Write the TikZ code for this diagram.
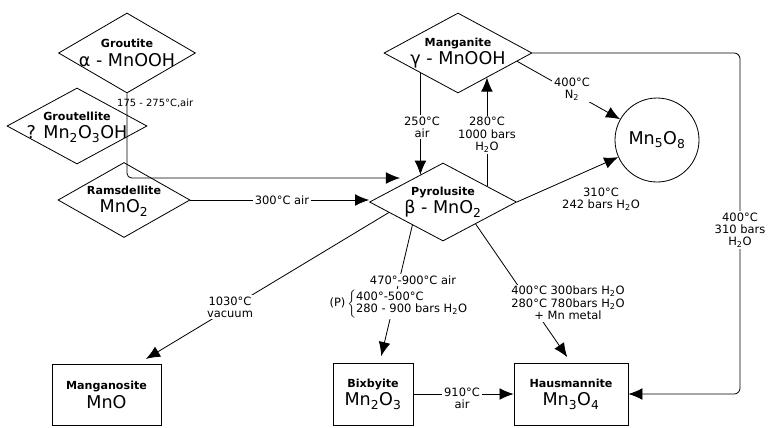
\documentclass[tikz,border=0pt]{standalone}
\usepackage{fontspec}
\setmainfont{DejaVu Sans}
\usetikzlibrary{arrows.meta,shapes.geometric}

\newcommand{\mname}[1]{{\fontsize{9.5}{11}\selectfont\bfseries #1}}
\newcommand{\low}[1]{\textsubscript{#1}}

\tikzset{
  mindiamond/.style={diamond, draw, inner sep=0pt},
  minbox/.style={rectangle, draw, inner sep=0pt},
  mintext/.style={align=center, inner sep=0pt, font=\fontsize{15}{16}\selectfont},
  cond/.style={align=center, inner sep=1.5pt, fill=white, font=\fontsize{9.8}{10.5}\selectfont},
}

\begin{document}
\begin{tikzpicture}[>={Latex[length=12pt,width=10pt]}, x=0.3mm, y=-0.3mm, line width=0.7pt]
  \useasboundingbox (0,0) rectangle (771,427);
  % Diamonds: oxyhydroxides and dioxides
  \node[mindiamond, minimum width=41.1mm, minimum height=24mm] (groutite) at (127,53) {};
  \node[mindiamond, minimum width=42mm, minimum height=22.8mm] (groutellite) at (77,126) {};
  \node[mindiamond, minimum width=39.6mm, minimum height=22.5mm] (ramsdellite) at (124,200) {};
  \node[mindiamond, minimum width=44.1mm, minimum height=23.4mm] (pyro) at (443,202) {};
  \node[mindiamond, minimum width=44.4mm, minimum height=24mm] (manganite) at (458,53) {};
  % Circle and boxes: the lower oxides
  \node[circle, draw, minimum size=25.2mm, inner sep=0pt, font=\fontsize{15}{16}\selectfont] (mnfiveo) at (657,140) {Mn\low{5}O\low{8}};
  \node[minbox, minimum width=32.7mm, minimum height=18.3mm] (manganosite) at (106.5,395) {};
  \node[minbox, minimum width=24mm, minimum height=18.6mm] (bixbyite) at (373,394) {};
  \node[minbox, minimum width=34.2mm, minimum height=18.6mm] (hausmannite) at (571,394) {};

  % Mineral names and formulas
  \node[mintext] (groutite text) at (groutite) {\mname{Groutite}\\α - MnOOH};
  \node[mintext] (groutellite text) at (77,127) {\mname{Groutellite}\\? Mn\low{2}O\low{3}OH};
  \node[mintext] (ramsdellite text) at (124,201) {\mname{Ramsdellite}\\MnO\low{2}};
  \node[mintext] (pyro text) at (pyro) {\mname{Pyrolusite}\\β - MnO\low{2}};
  \node[mintext] (manganite text) at (manganite) {\mname{Manganite}\\γ - MnOOH};
  \node[mintext] (manganosite text) at (manganosite) {\mname{Manganosite}\\MnO};
  \node[mintext] (bixbyite text) at (bixbyite) {\mname{Bixbyite}\\Mn\low{2}O\low{3}};
  \node[mintext] (hausmannite text) at (hausmannite) {\mname{Hausmannite}\\Mn\low{3}O\low{4}};

  % Reactions
  \coordinate (groutite end) at (400,178);
  \coordinate (right bend) at (740,230);
  \draw[->, rounded corners=4pt] (groutite.south) |- (groutite end);
  \draw[->] (ramsdellite.east) -- (ramsdellite.east -| pyro.west);
  \draw[->] (manganite.208) -- (manganite.208 |- pyro.130);
  \draw[->] (pyro.20) -- (pyro.20 |- manganite.-40);
  \draw[->] (manganite.-8) -- (mnfiveo);
  \draw[->] (pyro.east) -- (mnfiveo);
  \draw[->, rounded corners=5pt] (manganite.east) -| (right bend) |- (hausmannite.east);
  \draw[->, shorten >=3mm] (pyro.191) -- (manganosite.45);
  \draw[->, shorten >=2mm] (pyro.217) -- (bixbyite.78);
  \draw[->, shorten >=2mm] (pyro.-34) -- (hausmannite.north);
  \draw[->] (bixbyite.east) -- (hausmannite.west);

  % Conditions
  \node[cond, fill=none, anchor=west, font=\fontsize{8.5}{9}\selectfont] (c175) at (115,103) {175 - 275°C,air};
  \node[cond] (c300) at (282,200) {300°C air};
  \node[cond] (c250) at (422,127) {250°C\\air};
  \node[cond] (c280) at (487,135) {280°C\\1000 bars\\H\low{2}O};
  \node[cond] (c400n) at (572,89) {400°C\\N\low{2}};
  \node[cond] (c310) at (601,199) {310°C\\242 bars H\low{2}O};
  \node[cond] (c400h) at (right bend) {400°C\\310 bars\\H\low{2}O};
  \node[cond] (c1030) at (230,307) {1030°C\\vacuum};
  \node[cond] (cbix) at (413,280) {470°-900°C air};
  \node[cond, inner ysep=0.5pt] (cbix p) at (399,304) {(P)\,$\left\{\begin{tabular}{@{}l@{}}400°-500°C\\280 - 900 bars H\low{2}O\end{tabular}\right.$};
  \node[cond] (chaus) at (568,303) {400°C 300bars H\low{2}O\\280°C 780bars H\low{2}O\\+ Mn metal};
  \node[cond] (c910) at (462,398) {910°C\\air};
\end{tikzpicture}
\end{document}
